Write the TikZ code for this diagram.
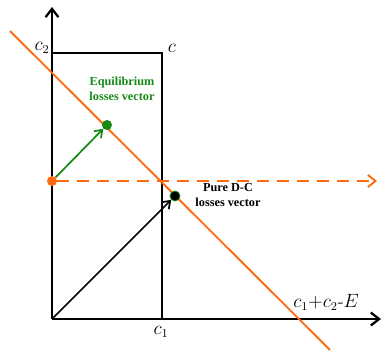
\documentclass[tikz,border=0pt]{standalone}
\usepackage{fontspec}
\usepackage{tikz}
\usetikzlibrary{arrows.meta,positioning,backgrounds}
\newfontfamily\lblfont{Liberation Serif}
\definecolor{orng}{HTML}{FF6A0D}
\definecolor{grn}{HTML}{158A15}
\tikzset{axis/.style={line width=1.7pt,-{Straight Barb[length=2.2mm,width=3.4mm]}},frame/.style={line width=2pt},budget/.style={draw=orng,line width=1.4pt},vec/.style={line width=1.3pt,-{Straight Barb[length=1.8mm,width=2.6mm]}},dot/.style={circle,inner sep=0pt,minimum size=7.5pt},lbl/.style={font=\lblfont\bfseries\fontsize{9.2}{10.8}\selectfont,align=center,inner sep=1pt},mlbl/.style={font=\fontsize{13.5}{16}\selectfont,inner sep=1pt}}

\begin{document}
\begin{tikzpicture}[x=0.75pt,y=-0.75pt]
\useasboundingbox (0,0) rectangle (381,350);
% points of the plane
\coordinate (o) at (52,319);
\coordinate (xend) at (381,319);
\coordinate (yend) at (52,7);
\coordinate (c2) at (52,53);
\coordinate (c) at (162,53);
\coordinate (c1) at (162,319);
\coordinate (ltop) at (10,31);
\coordinate (lbot) at (330,350);
\coordinate (dend) at (377,181);
\node[dot,fill=orng] (start) at (52,181) {};
\node[dot,fill=grn] (eq) at (107,125) {};
\node[dot,fill=black,draw=grn,line width=0.6pt] (dc) at (175,196) {};
\begin{scope}[on background layer]
\draw[axis] (o) -- (xend);
\draw[axis] (o) -- (yend);
\draw[frame] (c1) -- (c) -- (c2);
\draw[budget] (ltop) -- (lbot);
\draw[budget,dash pattern=on 9pt off 6pt,-{Straight Barb[length=2mm,width=3.2mm]}] (start) -- (dend);
\end{scope}
\draw[vec,draw=grn] (start) -- (eq);
\draw[vec] (o) -- (dc);
% labels
\node[lbl,text=grn] (eqlbl) at (122,89) {Equilibrium\\losses vector};
\node[lbl] (dclbl) at (228,195) {Pure D-C\\losses vector};
\node[mlbl] (c2lbl) at (42,48) {$c_2$};
\node[mlbl] (clbl) at (172,48) {$c$};
\node[mlbl] (c1lbl) at (161,332) {$c_1$};
\node[mlbl] (elbl) at (326,302) {$c_1{+}c_2$-$E$};
\end{tikzpicture}
\end{document}
